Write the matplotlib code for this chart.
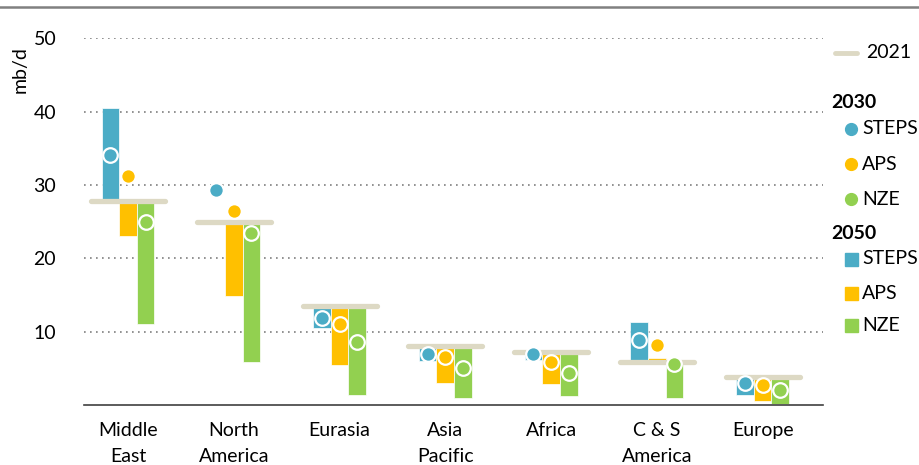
import numpy as np
import matplotlib.pyplot as plt
from matplotlib.lines import Line2D
from matplotlib.patches import Rectangle

plt.rcParams['font.family'] = ['Lato', 'DejaVu Sans']

# data (mb/d)
regions = ["Middle\nEast", "North\nAmerica", "Eurasia", "Asia\nPacific",
           "Africa", "C & S\nAmerica", "Europe"]
base_2021 = [27.8, 24.9, 13.5, 8.1, 7.2, 5.9, 3.8]
steps_2030 = [34.1, 29.3, 11.8, 7.0, 7.0, 8.9, 3.0]
aps_2030 = [31.2, 26.5, 11.1, 6.5, 5.8, 8.2, 2.7]
nze_2030 = [25.0, 23.5, 8.6, 5.0, 4.3, 5.6, 2.0]
steps_2050 = [40.5, 24.9, 10.5, 6.0, 6.1, 11.3, 1.3]
aps_2050 = [23.0, 14.9, 5.4, 3.0, 2.8, 6.4, 0.6]
nze_2050 = [11.1, 5.8, 1.3, 1.0, 1.2, 1.0, 0.2]

c_steps = '#4BACC6'
c_aps = '#FFC000'
c_nze = '#92D050'
c_base = '#DDD9C4'
fs = 14

fig = plt.figure(figsize=(9.19, 4.65), dpi=100)
ax = fig.add_axes([0.0914, 0.129, 0.804, 0.789])

x = np.arange(len(regions))
bw = 0.167
base = np.array(base_2021)

series = [(steps_2050, steps_2030, c_steps, -1),
          (aps_2050, aps_2030, c_aps, 0),
          (nze_2050, nze_2030, c_nze, 1)]

for v50, v30, col, k in series:
    v50 = np.array(v50)
    ax.bar(x + k * bw, v50 - base, bottom=base, width=bw, color=col,
           edgecolor='white', linewidth=0.5, zorder=2)

ax.hlines(base, x - 0.35, x + 0.35, color=c_base, lw=3.8,
          capstyle='round', zorder=3)

for v50, v30, col, k in series:
    ax.plot(x + k * bw, v30, 'o', ms=10.5, color=col, mec='white',
            mew=1.6, zorder=4, linestyle='none')

ax.set_xlim(-0.416, 6.57)
ax.set_ylim(0, 50)
ax.set_yticks([10, 20, 30, 40, 50])
ax.yaxis.grid(True, linestyle=(0, (1, 2.6)), color='#7f7f7f', lw=1.2)
ax.set_axisbelow(True)
ax.tick_params(axis='y', length=0, pad=20, labelsize=fs)
ax.tick_params(axis='x', length=0, pad=12, labelsize=fs)
ax.set_xticks(x)
ax.set_xticklabels(regions, linespacing=1.65, va='top')
for s in ['top', 'right', 'left']:
    ax.spines[s].set_visible(False)
ax.spines['bottom'].set_color('#404040')
ax.spines['bottom'].set_linewidth(1.2)

fig.text(0.022, 0.85, 'mb/d', rotation=90, fontsize=fs, ha='center', va='center')

# top rule
fig.add_artist(Line2D([0, 1], [1 - 7 / 465, 1 - 7 / 465], color='#808080',
                      lw=1.8, transform=fig.transFigure))

# legend
W, H = 919.0, 465.0
def fx(px):
    return px / W
def fy(py):
    return 1 - py / H

fig.add_artist(Line2D([fx(835), fx(857)], [fy(53), fy(53)], color=c_base,
                      lw=3.5, solid_capstyle='round', transform=fig.transFigure))
fig.text(fx(866), fy(53), '2021', fontsize=fs, va='center', ha='left')
fig.text(fx(831), fy(102), '2030', fontsize=fs, fontweight='bold',
         va='center', ha='left')
fig.text(fx(831), fy(233), '2050', fontsize=fs, fontweight='bold',
         va='center', ha='left')
labels = ['STEPS', 'APS', 'NZE']
cols = [c_steps, c_aps, c_nze]
for lab, col, yd, ys in zip(labels, cols, [129, 164, 199], [259, 293, 325]):
    fig.add_artist(Line2D([fx(851)], [fy(yd)], marker='o', ms=8.5, color=col,
                          transform=fig.transFigure))
    fig.text(fx(862), fy(yd), lab, fontsize=fs, va='center', ha='left')
    fig.add_artist(Rectangle((fx(845), fy(ys) - 6.5 / H), 13 / W, 13 / H,
                             color=col, transform=fig.transFigure))
    fig.text(fx(862), fy(ys), lab, fontsize=fs, va='center', ha='left')

fig.savefig('out.png', dpi=100)
